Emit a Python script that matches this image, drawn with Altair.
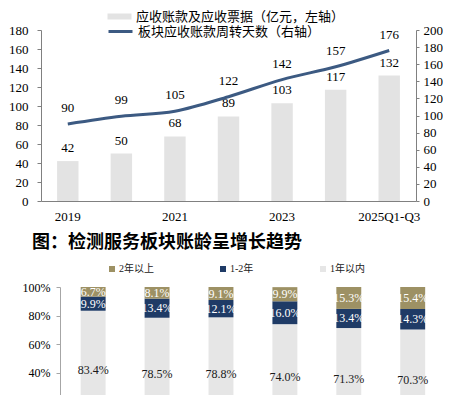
import altair as alt
import pandas as pd

# ---------------- data: top chart ----------------
years = ["2019", "2020", "2021", "2022", "2023", "2024", "2025Q1-Q3"]
receivables = [42, 50, 68, 89, 103, 117, 132]
turnover_days = [90, 99, 105, 122, 142, 157, 176]
year_labels = ["2019", "2021", "2023", "2025Q1-Q3"]
left_ticks = [0, 20, 40, 60, 80, 100, 120, 140, 160, 180]
right_ticks = [0, 20, 40, 60, 80, 100, 120, 140, 160, 180, 200]
bar_name = "应收账款及应收票据（亿元，左轴）"
line_name = "板块应收账款周转天数（右轴）"

# ---------------- data: bottom chart ----------------
age_years = ["2019", "2020", "2021", "2022", "2023", "2024"]
age_groups = ["2年以上", "1-2年", "1年以内"]
share_within_1y = [83.4, 78.5, 78.8, 74.0, 71.3, 70.3]
share_1_2y = [9.9, 13.4, 12.1, 16.0, 13.4, 14.3]
share_over_2y = [6.7, 8.1, 9.1, 9.9, 15.3, 15.4]
pct_ticks = [0, 20, 40, 60, 80, 100]
title2 = "图：检测服务板块账龄呈增长趋势"

FONT = "Liberation Serif, Noto Sans CJK SC"
CJK = "Noto Sans CJK SC"

# ---------------- top chart ----------------
top_df = pd.DataFrame({"year": years, "recv": receivables, "days": turnover_days})

x_top = alt.X(
    "year:N", sort=years, title=None,
    scale=alt.Scale(paddingInner=0.6, paddingOuter=0.3),
    axis=alt.Axis(values=year_labels, labelAngle=0, ticks=False, labelPadding=9,
                  domainColor="#808080", labelFont=FONT, labelFontSize=13,
                  labelColor="#000", labelOverlap=False),
)

base = alt.Chart(top_df).transform_calculate(
    s_bar=f"'{bar_name}'", s_line=f"'{line_name}'"
)

y_left = alt.Y(
    "recv:Q", title=None, scale=alt.Scale(domain=[0, 180]),
    axis=alt.Axis(values=left_ticks, grid=False, domainColor="#808080",
                  tickColor="#808080", tickSize=4, labelPadding=9, labelFont=FONT,
                  labelFontSize=13, labelColor="#000", labelOverlap=False),
)

bars = base.mark_bar().encode(
    x=x_top,
    y=y_left,
    fill=alt.Fill(
        "s_bar:N",
        scale=alt.Scale(range=["#e3e3e3"]),
        legend=alt.Legend(orient="none", legendX=72, legendY=-20, title=None,
                          symbolType="M-2,-0.5L2,-0.5L2,0.5L-2,0.5Z",
                          symbolSize=144, symbolStrokeWidth=0, labelFont=CJK,
                          labelFontSize=13, labelOffset=10, padding=0,
                          labelColor="#000", labelLimit=400),
    ),
)
bar_text = base.mark_text(dy=-13, font=FONT, fontSize=13, color="#000").encode(
    x=x_top, y=y_left, text="recv:Q"
)

y_right = alt.Y(
    "days:Q", title=None, scale=alt.Scale(domain=[0, 200]),
    axis=alt.Axis(orient="right", values=right_ticks, grid=False,
                  domainColor="#808080", tickColor="#808080", tickSize=3,
                  labelPadding=4, labelFont=FONT, labelFontSize=13, labelColor="#000",
                  labelOverlap=False),
)
line = base.mark_line(strokeWidth=3, interpolate="monotone").encode(
    x=x_top,
    y=y_right,
    stroke=alt.Stroke(
        "s_line:N",
        scale=alt.Scale(range=["#3c5a82"]),
        legend=alt.Legend(orient="none", legendX=72, legendY=-6, title=None,
                          symbolType="M-2,0L2,0", symbolSize=144,
                          symbolStrokeWidth=3, labelFont=CJK, labelFontSize=13,
                          labelOffset=10, padding=0, labelColor="#000",
                          labelLimit=400),
    ),
)
line_text = base.mark_text(dy=-16, font=FONT, fontSize=13, color="#000").encode(
    x=x_top, y=y_right, text="days:Q"
)

top = (
    alt.layer(alt.layer(bars, bar_text), alt.layer(line, line_text))
    .resolve_scale(y="independent")
    .properties(width=375, height=171)
)

# ---------------- bottom chart ----------------
rows = []
for i, yr in enumerate(age_years):
    for grp, vals, o in [("1年以内", share_within_1y, 0),
                         ("1-2年", share_1_2y, 1),
                         ("2年以上", share_over_2y, 2)]:
        rows.append({"year": yr, "group": grp, "value": vals[i], "ord": o})
bot_df = pd.DataFrame(rows)

x_bot = alt.X(
    "year:N", sort=age_years, title=None,
    scale=alt.Scale(paddingInner=0.61, paddingOuter=0.45, align=0.69),
    axis=alt.Axis(labelAngle=0, ticks=False, domainColor="#a6a6a6",
                  labelFont=FONT, labelFontSize=12, labelColor="#000"),
)

y_axis_bot = alt.Axis(values=pct_ticks, labelExpr="datum.value + '%'", offset=-19,
                      grid=False, domainColor="#a6a6a6", tickColor="#a6a6a6",
                      tickSize=4, labelPadding=6, labelFont=FONT, labelFontSize=12,
                      labelColor="#000", labelOverlap=False)

bbase = alt.Chart(bot_df)
bars2 = bbase.mark_bar().encode(
    x=x_bot,
    y=alt.Y("value:Q", stack="zero", scale=alt.Scale(domain=[0, 100]), title=None,
            axis=y_axis_bot),
    color=alt.Color("group:N",
                    scale=alt.Scale(domain=age_groups,
                                    range=["#9d9164", "#1f3b66", "#e6e6e6"]),
                    legend=alt.Legend(orient="none", direction="horizontal",
                                      legendX=66, legendY=-23, title=None,
                                      symbolType="square", symbolSize=36,
                                      symbolStrokeWidth=0, labelFont=FONT,
                                      labelFontSize=10, labelOffset=2,
                                      columnPadding=64, padding=0, labelColor="#222")),
    order=alt.Order("ord:Q", sort="ascending"),
)
labels2 = (
    bbase.transform_stack(stack="value", groupby=["year"],
                          sort=[alt.SortField("ord", "ascending")], as_=["v0", "v1"])
    .transform_calculate(mid="(datum.v0 + datum.v1) / 2",
                         lbl="format(datum.value, '.1f') + '%'")
    .mark_text(font=FONT, fontSize=12)
    .encode(
        x=x_bot,
        y=alt.Y("mid:Q", scale=alt.Scale(domain=[0, 100]), title=None,
                axis=y_axis_bot),
        text="lbl:N",
        color=alt.condition(alt.datum.group == "1年以内", alt.value("#1a1a1a"),
                            alt.value("white")),
    )
)

bottom = (
    alt.layer(bars2, labels2)
    .properties(
        width=402, height=143,
        title=alt.TitleParams(title2, anchor="start", frame="group", dx=-9,
                              font=CJK, fontSize=18, fontWeight="bold",
                              color="#000", offset=12),
    )
)

chart = (
    alt.vconcat(top, bottom, spacing=11)
    .resolve_legend(fill="independent", stroke="independent", color="independent")
    .properties(padding={"left": 0, "top": 2, "right": 0, "bottom": 0})
    .configure_view(stroke=None)
    .configure_axis(labelOverlap=False)
)

chart.save("out.html", embed_options={"renderer": "svg", "actions": False})
